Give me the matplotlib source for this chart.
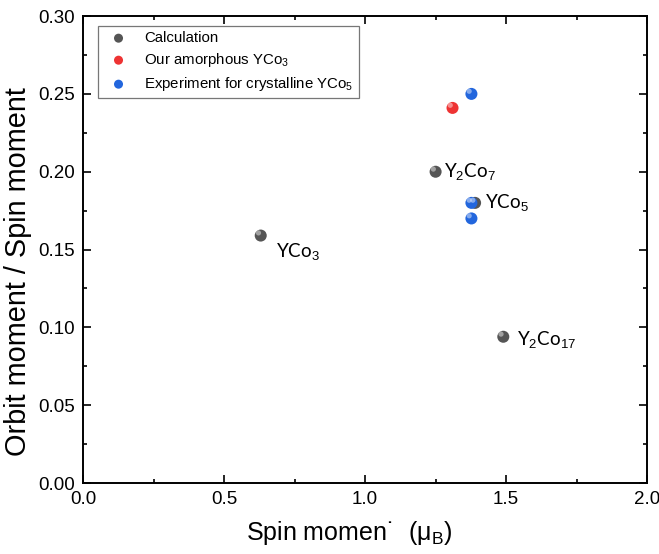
import numpy as np
import matplotlib.pyplot as plt
from matplotlib.ticker import MultipleLocator

plt.rcParams['font.family'] = ['Liberation Sans', 'DejaVu Sans']
plt.rcParams['mathtext.fontset'] = 'custom'
plt.rcParams['mathtext.rm'] = 'Liberation Sans'
plt.rcParams['mathtext.it'] = 'Liberation Sans:italic'

# calculation (grey), amorphous (red), crystalline experiment (blue)
calc_names = ["YCo$_3$", "Y$_2$Co$_7$", "YCo$_5$", "Y$_2$Co$_{17}$"]
calc_spin = [0.63, 1.25, 1.39, 1.49]
calc_ratio = [0.159, 0.200, 0.180, 0.094]
label_x = [0.685, 1.28, 1.425, 1.54]
label_y = [0.149, 0.200, 0.180, 0.092]

amor_spin = [1.31]
amor_ratio = [0.241]

exp_spin = [1.377, 1.377, 1.377]
exp_ratio = [0.250, 0.180, 0.170]


def sphere(ax, x, y, color, label=None):
    # plain disc plus a small highlight to mimic the shaded balls
    ax.scatter(x, y, s=75, color=color, edgecolors='none', zorder=3, label=label)
    ax.scatter(np.array(x) - 0.008, np.array(y) + 0.0017, s=14, color='white',
               alpha=0.45, edgecolors='none', zorder=4)


fig, ax = plt.subplots(figsize=(6.59, 5.54), dpi=100)
fig.subplots_adjust(left=0.126, right=0.982, top=0.971, bottom=0.128)

sphere(ax, calc_spin, calc_ratio, '#555555', "Calculation")
sphere(ax, amor_spin, amor_ratio, '#ee3333', "Our amorphous YCo$_3$")
sphere(ax, exp_spin, exp_ratio, '#2266dd', "Experiment for crystalline YCo$_5$")

for name, lx, ly in zip(calc_names, label_x, label_y):
    ax.text(lx, ly, name, fontsize=13.5, family=['Lato', 'DejaVu Sans'],
            va='center', ha='left')

ax.set_xlim(0, 2.0)
ax.set_ylim(0, 0.30)
ax.xaxis.set_major_locator(MultipleLocator(0.5))
ax.xaxis.set_minor_locator(MultipleLocator(0.25))
ax.yaxis.set_major_locator(MultipleLocator(0.05))
ax.yaxis.set_minor_locator(MultipleLocator(0.025))
ax.xaxis.set_major_formatter(plt.FormatStrFormatter('%.1f'))
ax.yaxis.set_major_formatter(plt.FormatStrFormatter('%.2f'))
ax.tick_params(which='both', direction='in', top=True, right=True, width=1.2)
ax.tick_params(which='major', length=6, labelsize=13.5, pad=6)
ax.tick_params(which='minor', length=3)
for sp in ax.spines.values():
    sp.set_linewidth(1.4)

ax.set_xlabel("Spin momen\u02d9  (\u03bc$_\\mathrm{B}$)", fontsize=18)
ax.set_ylabel("Orbit moment / Spin moment", fontsize=20.8)
ax.xaxis.set_label_coords(0.472, -0.076)
ax.yaxis.set_label_coords(-0.091, 0.452)

leg = ax.legend(loc='upper left', fontsize=10.8, frameon=True, fancybox=False,
                edgecolor='#555555', borderpad=0.35, handletextpad=0.7,
                labelspacing=0.4, scatterpoints=1, markerscale=0.75,
                borderaxespad=0, bbox_to_anchor=(0.027, 0.979))
leg.get_frame().set_linewidth(0.9)

fig.savefig("out.png", dpi=100)
